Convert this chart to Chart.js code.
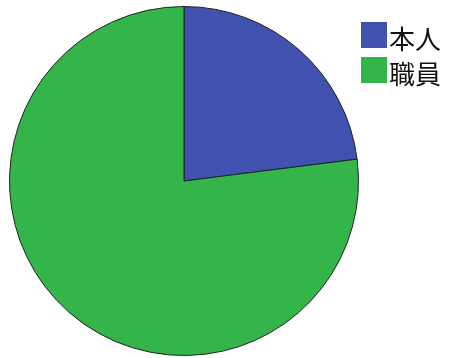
<!DOCTYPE html>
<html lang="ja">
<head>
    <meta charset="UTF-8">
    <title>本人・職員</title>
    <script src="https://cdn.jsdelivr.net/npm/chart.js"></script>
    <style>
        body { margin: 0; background: #fff; }
        #wrap { position: relative; width: 449px; height: 358px; }
        .box { position: absolute; left: 361px; width: 26px; height: 26px; }
        .label { position: absolute; left: 389px; font-family: "Noto Sans CJK JP", sans-serif; font-size: 26px; line-height: 26px; color: #111; }
    </style>
</head>
<body>
    <div id="wrap">
        <canvas id="pieChart" width="449" height="358"></canvas>
    </div>
    <script>
        const labels = ['本人', '職員'];
        const values = [23, 77];
        const colors = ['#4051b0', '#34b54a'];

        // legend drawn as html: a colour box and label per row
        const wrap = document.getElementById('wrap');
        labels.forEach((label, i) => {
            const box = document.createElement('div');
            box.className = 'box';
            box.style.top = (22 + i * 35) + 'px';
            box.style.background = colors[i];
            wrap.appendChild(box);
            const txt = document.createElement('div');
            txt.className = 'label';
            txt.style.top = (25 + i * 35) + 'px';
            txt.textContent = label;
            wrap.appendChild(txt);
        });

        const ctx = document.getElementById('pieChart').getContext('2d');
        new Chart(ctx, {
            type: 'pie',
            data: {
                labels: labels,
                datasets: [{
                    data: values,
                    backgroundColor: colors,
                    borderColor: '#222',
                    borderWidth: 1
                }]
            },
            options: {
                responsive: false,
                animation: false,
                layout: { padding: { left: 9, right: 90, top: 6, bottom: 2 } },
                plugins: {
                    legend: { display: false },
                    tooltip: { enabled: false }
                }
            }
        });
    </script>
</body>
</html>
